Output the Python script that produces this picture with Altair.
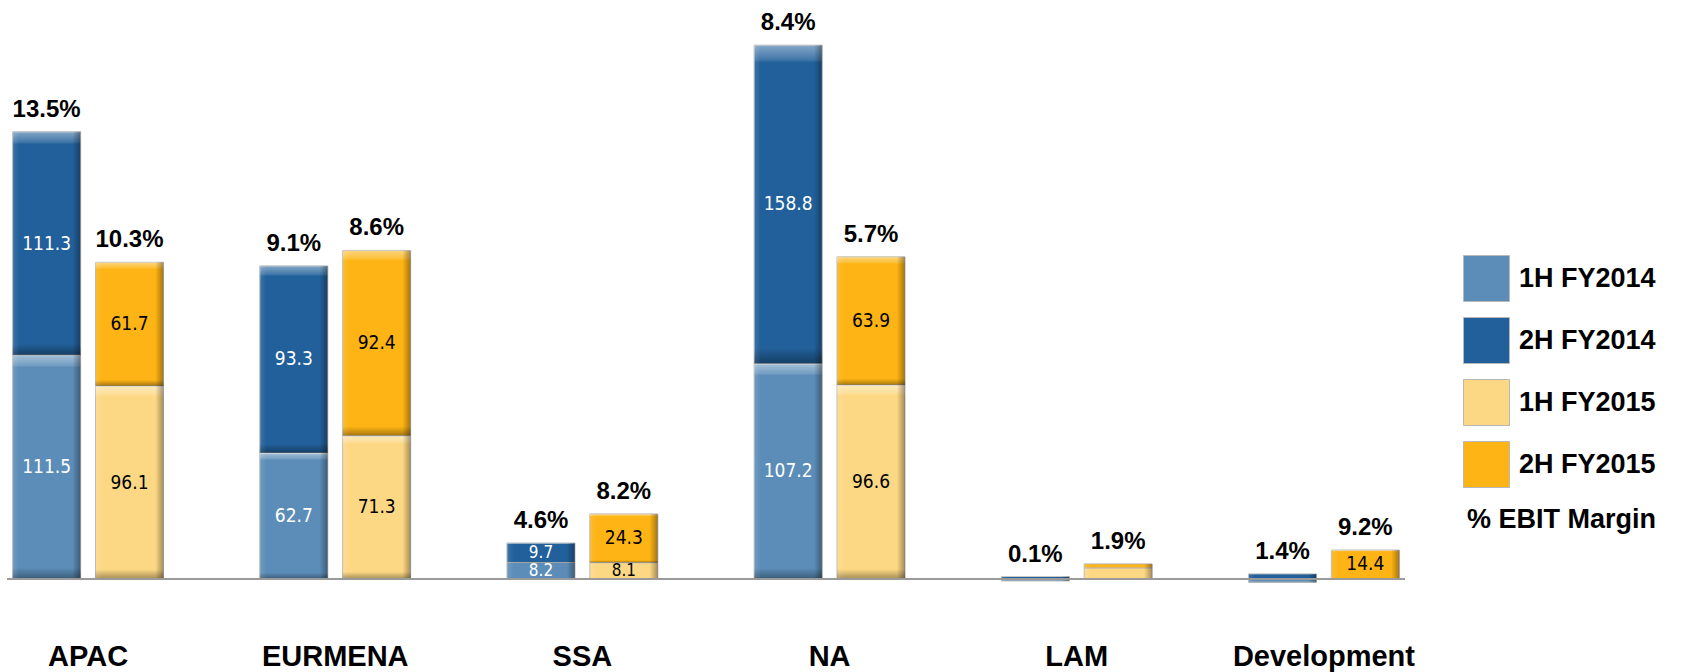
import altair as alt
import pandas as pd

# Regional EBIT by half-year, FY2014 vs FY2015
regions = ["APAC", "EURMENA", "SSA", "NA", "LAM", "Development"]
h1_fy2014 = [111.5, 62.7, 8.2, 107.2, -1.0, -1.6]
h2_fy2014 = [111.3, 93.3, 9.7, 158.8, 1.2, 2.5]
h1_fy2015 = [96.1, 71.3, 8.1, 96.6, 5.5, 0.0]
h2_fy2015 = [61.7, 92.4, 24.3, 63.9, 2.0, 14.4]
margin_fy2014 = ["13.5%", "9.1%", "4.6%", "8.4%", "0.1%", "1.4%"]
margin_fy2015 = ["10.3%", "8.6%", "8.2%", "5.7%", "1.9%", "9.2%"]

series = ["1H FY2014", "2H FY2014", "1H FY2015", "2H FY2015"]
colors = ["#5B8DB8", "#21609A", "#FDD884", "#FDB414"]

rows = []
for i, r in enumerate(regions):
    for year, h1, h2, m in (("FY2014", h1_fy2014, h2_fy2014, margin_fy2014),
                            ("FY2015", h1_fy2015, h2_fy2015, margin_fy2015)):
        rows.append({"region": r, "year": year, "half": 1, "series": "1H " + year,
                     "value": h1[i], "margin": m[i]})
        rows.append({"region": r, "year": year, "half": 2, "series": "2H " + year,
                     "value": h2[i], "margin": m[i]})
df = pd.DataFrame(rows)

BOLD = "Liberation Sans"
NARROW = "Liberation Sans Narrow, Arial Narrow, DejaVu Sans Condensed, Liberation Sans"

base = alt.Chart(df).transform_stack(
    stack="value", groupby=["region", "year"], as_=["y0", "y1"],
    sort=[alt.SortField("half", order="ascending")], offset="zero"
)

x_enc = alt.X(
    "region:N", sort=regions,
    scale=alt.Scale(paddingInner=0.344, paddingOuter=0),
    axis=alt.Axis(title=None, domain=False, ticks=False, grid=False, labelAngle=0,
                  labelFont=BOLD, labelFontSize=29, labelFontWeight="bold",
                  labelColor="black", labelPadding=56, labelBaseline="middle",
                  labelLimit=0),
)
xo_enc = alt.XOffset("year:N", scale=alt.Scale(paddingInner=0.179, paddingOuter=0.068))
y_scale = alt.Scale(domain=[-10.5, 288.5], nice=False, zero=False)

bars = base.mark_bar(stroke="#b8b8b8", strokeWidth=1).encode(
    x=x_enc, xOffset=xo_enc,
    y=alt.Y("y0:Q", scale=y_scale, axis=None), y2="y1:Q",
    color=alt.Color(
        "series:N",
        scale=alt.Scale(domain=series, range=colors),
        legend=alt.Legend(
            title="% EBIT Margin", titleOrient="bottom", titleAnchor="end",
            titleFont=BOLD, titleFontSize=27, titleFontWeight="bold", titleColor="black",
            titlePadding=17, titleLimit=400,
            orient="none", legendX=1456, legendY=255,
            symbolType="square", symbolSize=2116, symbolStrokeColor="#b8b8b8",
            symbolStrokeWidth=1, symbolOpacity=1,
            labelFont=BOLD, labelFontSize=27, labelFontWeight="bold", labelColor="black",
            labelOffset=9, rowPadding=11, labelLimit=300,
        ),
    ),
)

# Bevel shading laid over every segment
v_shade = alt.LinearGradient(
    gradient="linear", x1=0, x2=0, y1=0, y2=1,
    stops=[
        alt.GradientStop(color="rgba(255,255,255,0.45)", offset=0),
        alt.GradientStop(color="rgba(255,255,255,0.15)", offset=0.045),
        alt.GradientStop(color="rgba(255,255,255,0)", offset=0.055),
        alt.GradientStop(color="rgba(0,0,0,0)", offset=0.95),
        alt.GradientStop(color="rgba(0,0,0,0.35)", offset=1),
    ],
)
h_shade = alt.LinearGradient(
    gradient="linear", x1=0, x2=1, y1=0, y2=0,
    stops=[
        alt.GradientStop(color="rgba(255,255,255,0.12)", offset=0),
        alt.GradientStop(color="rgba(255,255,255,0)", offset=0.1),
        alt.GradientStop(color="rgba(0,0,0,0)", offset=0.88),
        alt.GradientStop(color="rgba(0,0,0,0.35)", offset=1),
    ],
)
shade_enc = dict(x=x_enc, xOffset=xo_enc,
                 y=alt.Y("y0:Q", scale=y_scale, axis=None), y2="y1:Q",
                 detail="series:N")
shade_v = base.mark_bar(fill=v_shade).encode(**shade_enc)
shade_h = base.mark_bar(fill=h_shade).encode(**shade_enc)

baseline = alt.Chart(df).mark_rule(color="#9a9a9a", strokeWidth=2).encode(
    y=alt.Y(datum=0, scale=y_scale, axis=None)
)

# Segment values; thin segments get a slightly smaller label so stacked ones don't collide
seg_labels = base.transform_filter("abs(datum.value) >= 8").transform_calculate(
    mid="(datum.y0 + datum.y1) / 2"
).mark_text(font=NARROW, baseline="middle").encode(
    x=x_enc, xOffset=xo_enc,
    y=alt.Y("mid:Q", scale=y_scale, axis=None),
    text=alt.Text("value:Q", format=".1f"),
    size=alt.condition("abs(datum.value) < 12", alt.value(17), alt.value(19)),
    color=alt.condition(alt.datum.year == "FY2014", alt.value("white"), alt.value("black")),
)

margins = base.transform_aggregate(
    top="max(y1)", groupby=["region", "year", "margin"]
).transform_calculate(
    top="max(datum.top, 0)"
).mark_text(font=BOLD, fontSize=24, fontWeight="bold", baseline="alphabetic",
            dy=-15, color="black").encode(
    x=x_enc, xOffset=xo_enc,
    y=alt.Y("top:Q", scale=y_scale, axis=None),
    text="margin:N",
)

chart = alt.layer(bars, shade_v, shade_h, baseline, seg_labels, margins).properties(
    width=1398, height=600,
    autosize=alt.AutoSizeParams(type="none"),
    padding={"left": 7, "top": 0, "right": 282, "bottom": 72},
    background="white",
).configure_view(stroke=None).configure_legend(titleFontSize=27)

chart.save("out.html", embed_options={"renderer": "svg", "actions": False})
